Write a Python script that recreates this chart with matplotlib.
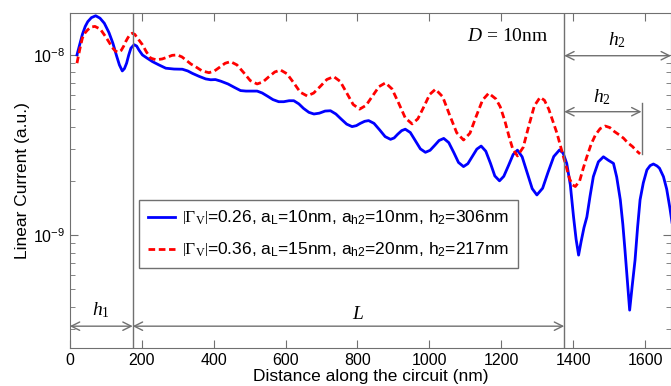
import numpy as np
import matplotlib
matplotlib.use("Agg")
import matplotlib.pyplot as plt
from matplotlib.ticker import NullFormatter

plt.rcParams['font.family'] = ['Liberation Sans', 'DejaVu Sans']
plt.rcParams['mathtext.fontset'] = 'custom'
plt.rcParams['mathtext.rm'] = 'Liberation Serif'
plt.rcParams['mathtext.it'] = 'Liberation Serif:italic'
plt.rcParams['mathtext.sf'] = 'Liberation Sans'

# distancia (nm) y corriente (x 1e-9)
x_azul = [20, 28, 35, 43, 50, 60, 72, 84, 96, 109, 120, 130, 138, 146, 152, 158,
          164, 170, 179, 186, 193, 202, 215, 230, 248, 267, 290, 313, 328, 341,
          360, 378, 392, 405, 420, 440, 458, 475, 490, 505, 521, 535, 550, 565,
          581, 595, 610, 623, 637, 650, 665, 679, 694, 710, 725, 740, 755, 770,
          785, 797, 808, 820, 831, 846, 862, 877, 892, 902, 912, 923, 933, 947,
          961, 975, 989, 1002, 1015, 1027, 1040, 1054, 1068, 1081, 1095, 1107,
          1120, 1132, 1144, 1157, 1170, 1182, 1195, 1207, 1220, 1233, 1245, 1258,
          1272, 1286, 1299, 1315, 1330, 1346, 1362, 1372, 1382, 1392, 1401, 1408,
          1415, 1422, 1430, 1438, 1447, 1456, 1470, 1484, 1498, 1512, 1521, 1531,
          1538, 1544, 1551, 1557, 1564, 1572, 1579, 1586, 1595, 1605, 1614, 1623,
          1633, 1640, 1651, 1660, 1669, 1680]
y_azul = [10.0, 11.5, 13.0, 14.4, 15.3, 16.1, 16.5, 16.0, 15.0, 13.3, 11.6, 9.9,
          8.8, 8.15, 8.4, 9.0, 10.0, 10.9, 11.4, 11.2, 10.6, 10.0, 9.6, 9.18, 8.8,
          8.44, 8.35, 8.33, 8.15, 7.9, 7.6, 7.36, 7.28, 7.3, 7.15, 6.9, 6.6, 6.34,
          6.3, 6.3, 6.3, 6.15, 5.9, 5.65, 5.5, 5.5, 5.57, 5.57, 5.35, 5.05, 4.8,
          4.7, 4.75, 4.88, 4.9, 4.7, 4.4, 4.13, 4.0, 4.05, 4.17, 4.28, 4.32, 4.17,
          3.83, 3.52, 3.4, 3.46, 3.63, 3.8, 3.87, 3.71, 3.34, 3.01, 2.88, 2.955,
          3.15, 3.35, 3.44, 3.26, 2.87, 2.53, 2.4, 2.49, 2.74, 3.0, 3.12, 2.92,
          2.5, 2.13, 2.0, 2.12, 2.43, 2.8, 2.96, 2.72, 2.22, 1.81, 1.67, 1.82,
          2.23, 2.73, 2.97, 2.85, 2.5, 1.9, 1.26, 0.95, 0.774, 0.92, 1.1, 1.26,
          1.65, 2.11, 2.55, 2.72, 2.6, 2.5, 2.1, 1.57, 1.15, 0.825, 0.55, 0.383,
          0.52, 0.726, 1.1, 1.57, 1.95, 2.3, 2.43, 2.48, 2.42, 2.35, 2.11, 1.8,
          1.41, 1.0]

x_rojo = [20, 28, 35, 43, 50, 60, 70, 85, 100, 110, 118, 127, 135, 143, 150, 156,
          162, 168, 174, 181, 188, 195, 202, 213, 225, 240, 257, 270, 285, 299,
          312, 325, 337, 350, 368, 387, 402, 417, 432, 447, 465, 484, 502, 521,
          537, 553, 570, 586, 604, 623, 641, 660, 678, 697, 715, 734, 752, 770,
          788, 806, 824, 842, 860, 878, 896, 915, 933, 952, 968, 985, 1001, 1017,
          1037, 1056, 1076, 1095, 1113, 1130, 1148, 1165, 1185, 1197, 1210, 1222,
          1232, 1245, 1261, 1276, 1292, 1308, 1320, 1332, 1345, 1355, 1367, 1378,
          1390, 1398, 1406, 1418, 1428, 1438, 1450, 1462, 1475, 1489, 1502, 1515,
          1528, 1540, 1552, 1565, 1575, 1586]
y_rojo = [9.0, 10.8, 12.4, 13.3, 13.8, 14.3, 14.4, 13.9, 12.6, 11.7, 11.0, 10.5,
          10.35, 10.6, 11.2, 11.9, 12.5, 13.0, 13.2, 13.0, 12.4, 11.9, 11.4, 10.4,
          9.6, 9.4, 9.5, 9.7, 9.95, 10.0, 9.75, 9.3, 8.9, 8.6, 8.15, 7.97, 8.14,
          8.55, 8.99, 9.18, 8.8, 7.96, 7.2, 6.9, 7.08, 7.55, 8.04, 8.25, 7.86, 6.99,
          6.21, 5.92, 6.14, 6.7, 7.31, 7.58, 7.13, 6.16, 5.31, 5.0, 5.25, 5.92,
          6.67, 7.0, 6.48, 5.38, 4.47, 4.14, 4.42, 5.17, 6.04, 6.45, 5.86, 4.66,
          3.7, 3.37, 3.68, 4.55, 5.62, 6.13, 5.7, 5.16, 4.3, 3.5, 3.0, 2.75, 3.07,
          4.0, 5.22, 5.82, 5.6, 5.0, 4.2, 3.67, 3.0, 2.5, 2.05, 1.9, 1.86, 2.0,
          2.35, 2.72, 3.2, 3.6, 3.9, 4.03, 3.95, 3.75, 3.6, 3.45, 3.25, 3.1, 2.95,
          2.82]

etiquetas = [r'$\left|\Gamma_{\mathrm{V}}\right|$=0.26, a$_{\mathsf{L}}$=10nm, a$_{\mathsf{h2}}$=10nm, h$_{\mathsf{2}}$=306nm',
             r'$\left|\Gamma_{\mathrm{V}}\right|$=0.36, a$_{\mathsf{L}}$=15nm, a$_{\mathsf{h2}}$=20nm, h$_{\mathsf{2}}$=217nm']

x_h1 = 175
x_h2 = 1375
x_fin_rojo = 1590

fig = plt.figure(figsize=(6.71, 3.86), dpi=100)
ax = fig.add_axes([0.104, 0.0984, 0.896, 0.868])

gris = '#707070'
ax.plot(x_azul, np.array(y_azul) * 1e-9, color='#0000FF', lw=2.0, label=etiquetas[0])
ax.plot(x_rojo, np.array(y_rojo) * 1e-9, color='#FF0000', lw=2.0, dashes=(2.4, 1.3),
        label=etiquetas[1])

ax.set_yscale('log')
ax.set_xlim(0, 1672)
ax.set_ylim(2.36e-10, 1.71e-8)
ax.set_xticks(np.arange(0, 1601, 200))
ax.set_yticks([1e-9, 1e-8])
ax.yaxis.set_minor_formatter(NullFormatter())

ax.axvline(x_h1, color=gris, lw=1)
ax.axvline(x_h2, color=gris, lw=1)
ax.plot([x_fin_rojo, x_fin_rojo], [2.82e-9, 5.41e-9], color=gris, lw=1)

def flecha(x0, x1, y):
    ax.annotate('', xy=(x1, y), xytext=(x0, y),
                arrowprops=dict(arrowstyle='<->,head_length=0.6,head_width=0.3',
                                color=gris, lw=1, shrinkA=0, shrinkB=0))

flecha(0, x_h1, 3.12e-10)
flecha(x_h1, x_h2, 3.12e-10)
flecha(x_h2, 1672, 9.9e-9)
flecha(x_h2, x_fin_rojo, 4.84e-9)

ax.text(86, 3.83e-10, r'$h_1$', fontsize=14, ha='center', va='center')
ax.text(803, 3.6e-10, r'$L$', fontsize=14, ha='center', va='center')
ax.text(1521, 1.21e-8, r'$h_2$', fontsize=14, ha='center', va='center')
ax.text(1479, 5.86e-9, r'$h_2$', fontsize=14, ha='center', va='center')
ax.text(1330, 1.26e-8, r'$D$ = 10nm', fontsize=14, ha='right', va='center',
        family='Liberation Serif')

for s in ax.spines.values():
    s.set_color(gris)
ax.tick_params(which='both', direction='in', top=True, right=True, colors=gris,
               labelcolor='black', labelsize=11.5)
ax.tick_params(which='major', length=6)
ax.tick_params(which='minor', length=3.5)

ax.set_xlabel('Distance along the circuit (nm)', fontsize=12.5, labelpad=1)
ax.set_ylabel('Linear Current (a.u.)', fontsize=12.5, labelpad=2)

leg = ax.legend(loc='upper left', bbox_to_anchor=(139 / 671, 1 - 200 / 386),
                bbox_transform=fig.transFigure, fontsize=12.5, fancybox=False,
                framealpha=1, edgecolor=gris, handlelength=1.6, borderaxespad=0,
                labelspacing=0.8, handletextpad=0.4, borderpad=0.5)
leg.get_frame().set_linewidth(1)

fig.savefig('out.png', dpi=100)
